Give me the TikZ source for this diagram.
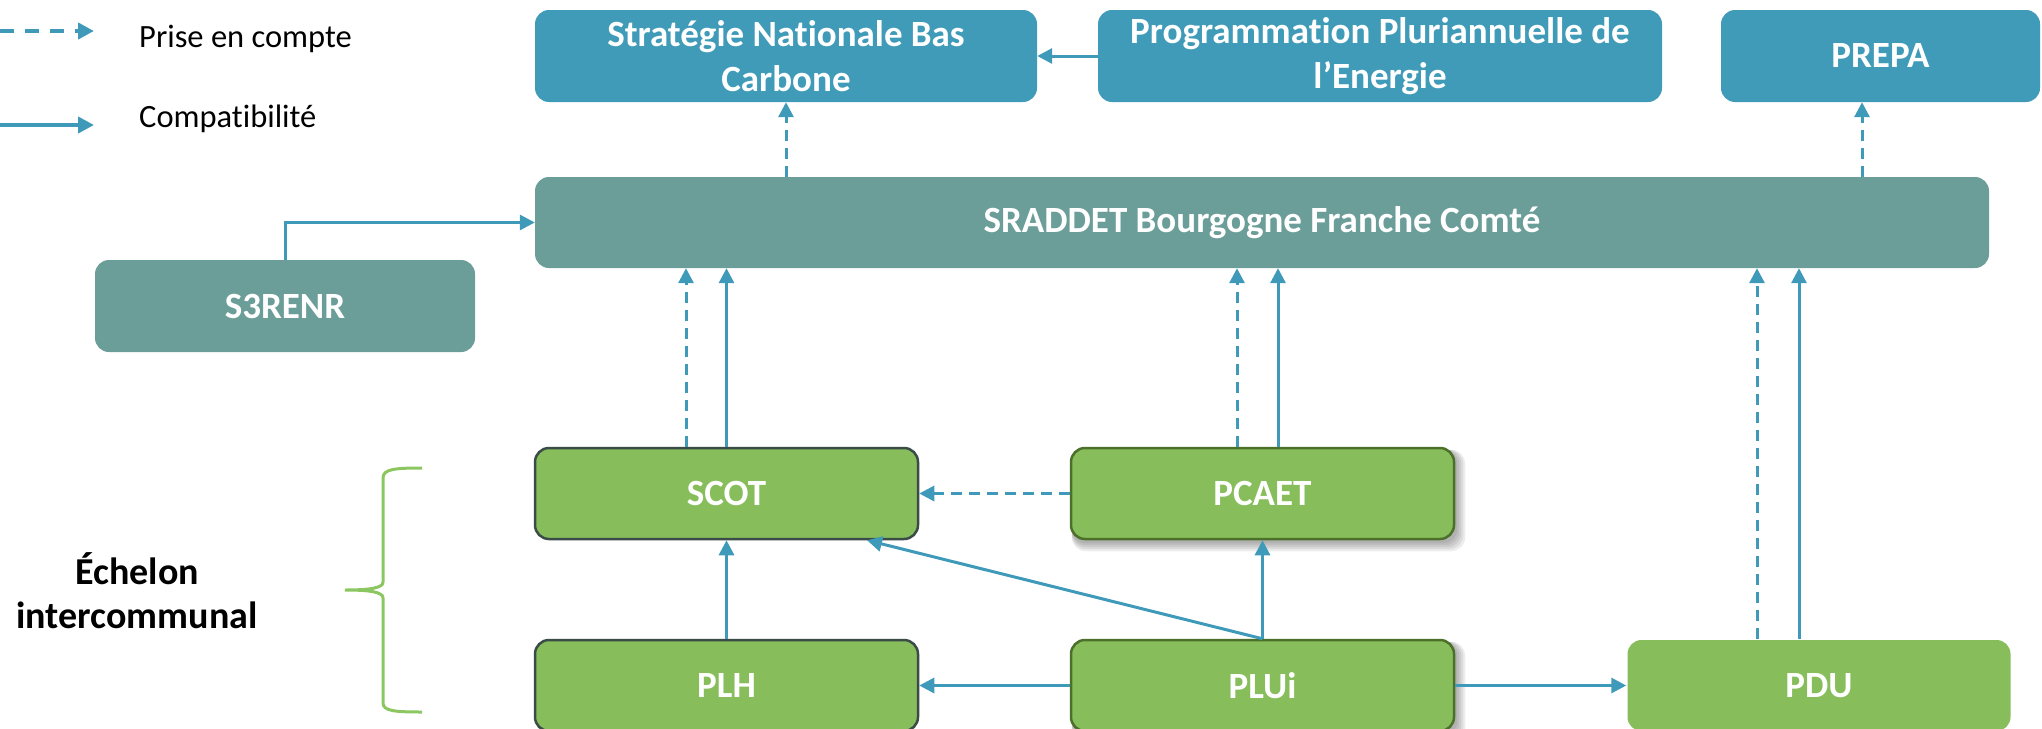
\documentclass[tikz,border=0pt]{standalone}
\usepackage{fontspec}
\setmainfont{Carlito}[RawFeature={-liga;-clig;-dlig;-calt}]
\usetikzlibrary{arrows.meta,backgrounds}
\definecolor{topblue}{HTML}{409BB9}
\definecolor{midteal}{HTML}{6B9D99}
\definecolor{leafgreen}{HTML}{87BE5B}
\definecolor{arrowblue}{HTML}{3F9AB9}
\definecolor{edgeslate}{HTML}{3A4B48}
\definecolor{edgegreen}{HTML}{4C7029}
\definecolor{bracegreen}{HTML}{8CC660}
\newcommand\mysoftshadow[1]{%
  \begin{scope}[on background layer]
    \foreach \r in {0,2,4,6,8}{
      \fill[black, opacity=0.07, rounded corners=14pt]
        ([shift={(2,3)}]#1.north west) rectangle ([shift={(2+\r,3+\r)}]#1.south east);
    }
  \end{scope}}
\begin{document}
\begin{tikzpicture}[x=1pt,y=-1pt,
  box/.style={rectangle, rounded corners=14pt, inner sep=0pt, align=center, text=white,
    font=\fontsize{37}{45}\selectfont\bfseries},
  topbox/.style={box, fill=topblue, minimum height=92pt},
  tealbox/.style={box, fill=midteal},
  greenbox/.style={box, fill=leafgreen, minimum width=383pt, minimum height=91pt, line width=2.5pt},
  conn/.style={draw=arrowblue, line width=3pt, -{Triangle[length=15pt,width=15pt]}},
  dconn/.style={conn, dash pattern=on 11pt off 7pt},
  legsolid/.style={draw=arrowblue, line width=4.5pt, -{Triangle[length=16pt,width=16pt]}},
  legdash/.style={legsolid, dash pattern=on 14pt off 11pt},
  legtext/.style={inner sep=0pt, font=\fontsize{32.5}{39}\selectfont},
  sidetext/.style={inner sep=0pt, align=center, font=\fontsize{38}{44}\selectfont\bfseries},
  bracestyle/.style={draw=bracegreen, line width=3pt}
]
\useasboundingbox (0,0) rectangle (2042,728);

% legend
\coordinate (ld0) at (0,31);
\coordinate (ld1) at (94,31);
\coordinate (ls0) at (0,125);
\coordinate (ls1) at (94,125);
\draw[legdash] (ld0) -- (ld1);
\draw[legsolid] (ls0) -- (ls1);
\node[legtext, anchor=base west] (lprise) at (139,47) {Prise en compte};
\node[legtext, anchor=base west] (lcompat) at (139,127) {Compatibilité};

% top row
\node[topbox, minimum width=502pt] (snbc) at (786,56) {Stratégie Nationale Bas\\Carbone};
\node[topbox, minimum width=564pt] (ppe) at (1380,56) {Programmation Pluriannuelle de\\l’Energie};
\node[topbox, minimum width=319pt] (prepa) at (1880.5,56) {PREPA};

% middle
\node[tealbox, minimum width=1454pt, minimum height=91pt] (sraddet) at (1262,222.5) {SRADDET Bourgogne Franche Comté};
\node[tealbox, minimum width=380pt, minimum height=92pt] (s3renr) at (285,306) {S3RENR};

% green boxes
\node[greenbox, draw=edgeslate] (scot) at (726.5,493.5) {SCOT};
\node[greenbox, draw=edgegreen] (pcaet) at (1262.5,493.5) {PCAET};
\node[greenbox, draw=edgeslate] (plh) at (726.5,685.5) {PLH};
\node[greenbox, draw=edgegreen] (plui) at (1262.5,685.5) {PLUi};
\node[greenbox] (pdu) at (1819,685.5) {PDU};
\mysoftshadow{pcaet}
\mysoftshadow{plui}

% side label and brace
\node[sidetext] (echelon) at (137,591) {Échelon\\intercommunal};
\draw[bracestyle] (422,468) .. controls (395,468) and (383,469) .. (383,478) -- (383,582)
  .. controls (383,588) and (370,590) .. (345,590)
  .. controls (370,590) and (383,592) .. (383,598) -- (383,703)
  .. controls (383,711) and (395,712) .. (422,712);

% connectors
\draw[conn] (ppe.west) -- (snbc.east);
\draw[dconn] (sraddet.north -| snbc.south) -- (snbc.south);
\draw[dconn] ([xshift=-18.5pt]prepa.south |- sraddet.north) -- ([xshift=-18.5pt]prepa.south);
\draw[conn] (s3renr.north) |- (sraddet.west);

\draw[dconn] ([xshift=-40.5pt]scot.north) -- ([xshift=-40.5pt]scot.north |- sraddet.south);
\draw[conn] (scot.north) -- (scot.north |- sraddet.south);
\draw[dconn] ([xshift=-25.5pt]pcaet.north) -- ([xshift=-25.5pt]pcaet.north |- sraddet.south);
\draw[conn] ([xshift=15.5pt]pcaet.north) -- ([xshift=15.5pt]pcaet.north |- sraddet.south);
\draw[dconn] ([xshift=-62pt]pdu.north) -- ([xshift=-62pt]pdu.north |- sraddet.south);
\draw[conn] ([xshift=-20pt]pdu.north) -- ([xshift=-20pt]pdu.north |- sraddet.south);

\draw[dconn] (pcaet.west) -- (scot.east);
\draw[conn] (plh.north) -- (scot.south);
\draw[conn] (plui.north) -- ([xshift=140.5pt]scot.south);
\draw[conn] (plui.north) -- (pcaet.south);
\draw[conn] (plui.west) -- (plh.east);
\draw[conn] (plui.east) -- (pdu.west);
\end{tikzpicture}
\end{document}
